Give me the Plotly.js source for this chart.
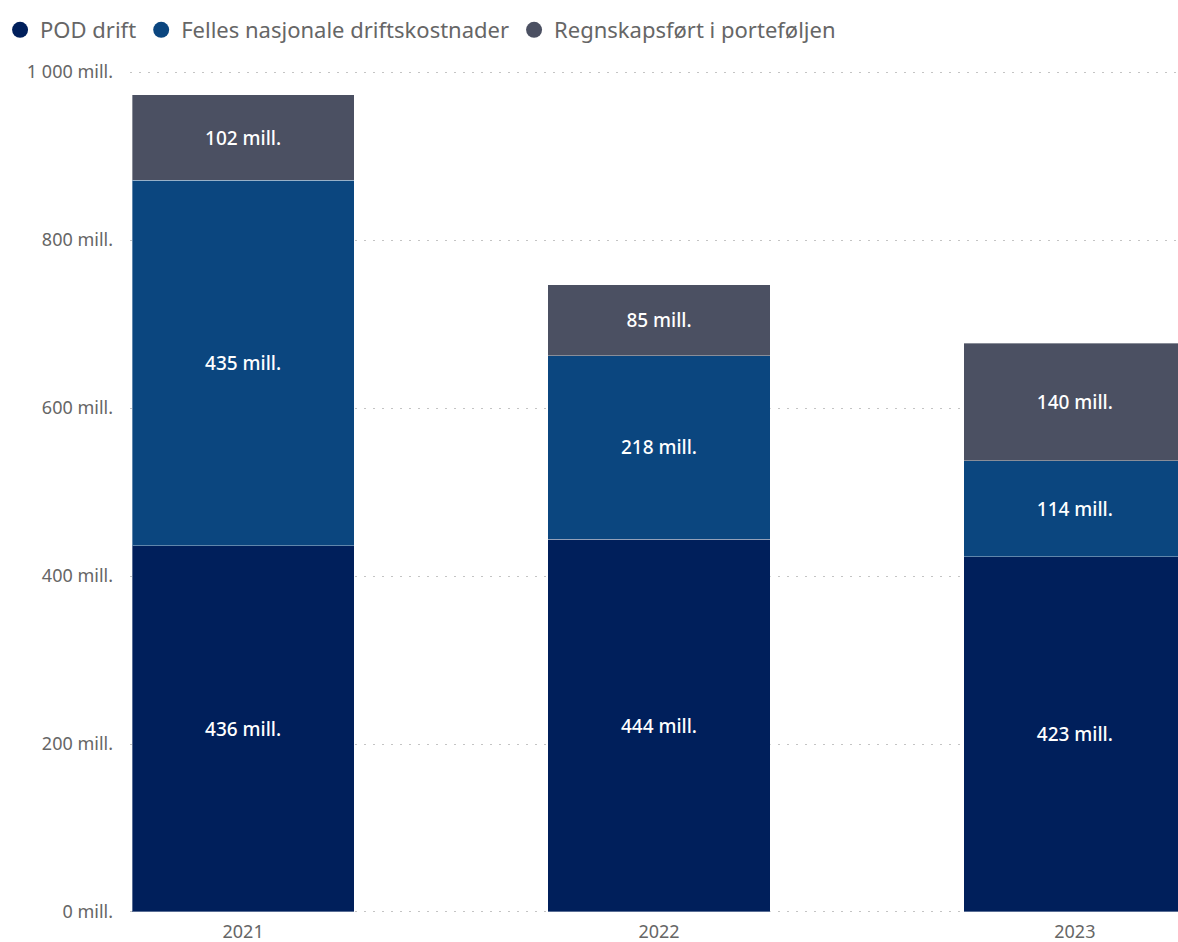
<!DOCTYPE html>
<html>
<head>
<meta charset="utf-8">
<script src="https://cdn.plot.ly/plotly-3.0.1.min.js"></script>
<style>html,body{margin:0;padding:0;background:#fff;}#chart{width:1178px;height:942px;}</style>
</head>
<body>
<div id="chart"></div>
<script>
const years = ['2021', '2022', '2023'];
const seriesNames = ['POD drift', 'Felles nasjonale driftskostnader', 'Regnskapsført i porteføljen'];
const podDrift = [436, 444, 423];
const felles = [435, 218, 114];
const regnskap = [102, 85, 140];
const seriesColors = ['#001f5b', '#0b467f', '#4b5062'];
const yTickVals = [0, 200, 400, 600, 800, 1000];
const yTickText = ['0 mill.', '200 mill.', '400 mill.', '600 mill.', '800 mill.', '1 000 mill.'];

const seriesValues = [podDrift, felles, regnskap];
const FONT = 'Noto Sans, Open Sans, sans-serif';

const traces = [];
seriesValues.forEach((vals, i) => {
  traces.push({
    type: 'bar',
    x: years,
    y: vals,
    name: seriesNames[i],
    showlegend: false,
    marker: {color: seriesColors[i], line: {color: 'rgba(255,255,255,0.35)', width: 1}},
    texttemplate: '%{y} mill.',
    textposition: 'inside',
    insidetextanchor: 'middle',
    textangle: 0,
    textfont: {family: FONT, size: 19, weight: 500, color: '#ffffff'},
    hoverinfo: 'skip'
  });
});
seriesValues.forEach((vals, i) => {
  traces.push({
    type: 'scatter',
    mode: 'markers',
    x: [null],
    y: [null],
    name: seriesNames[i],
    showlegend: true,
    marker: {color: seriesColors[i], size: 18, symbol: 'circle'},
    hoverinfo: 'skip'
  });
});

const layout = {
  width: 1178,
  height: 942,
  paper_bgcolor: '#ffffff',
  plot_bgcolor: '#ffffff',
  barmode: 'stack',
  bargap: 0.466,
  margin: {l: 130, r: 0, t: 71, b: 29, pad: 0},
  font: {family: FONT, color: '#666666'},
  xaxis: {
    type: 'category',
    range: [-0.272, 2.248],
    showgrid: false,
    zeroline: false,
    showline: false,
    ticks: '',
    ticklabelstandoff: 6,
    tickfont: {family: FONT, size: 18, color: '#666666'},
    fixedrange: true
  },
  yaxis: {
    range: [-1.2, 1001.2],
    tickvals: yTickVals,
    ticktext: yTickText,
    showgrid: true,
    gridcolor: '#c4c4c4',
    gridwidth: 1,
    griddash: '2px,7px',
    zeroline: false,
    showline: false,
    ticks: '',
    ticklabelstandoff: 16,
    tickfont: {family: FONT, size: 18, color: '#666666'},
    fixedrange: true
  },
  legend: {
    orientation: 'h',
    traceorder: 'normal',
    x: -0.124,
    xanchor: 'left',
    y: 1.0487,
    yanchor: 'middle',
    font: {family: FONT, size: 22, color: '#666666'},
    itemwidth: 30,
    tracegroupgap: 0,
    bgcolor: 'rgba(0,0,0,0)'
  },
  showlegend: true
};

Plotly.newPlot('chart', traces, layout, {displayModeBar: false, staticPlot: true});
</script>
</body>
</html>
